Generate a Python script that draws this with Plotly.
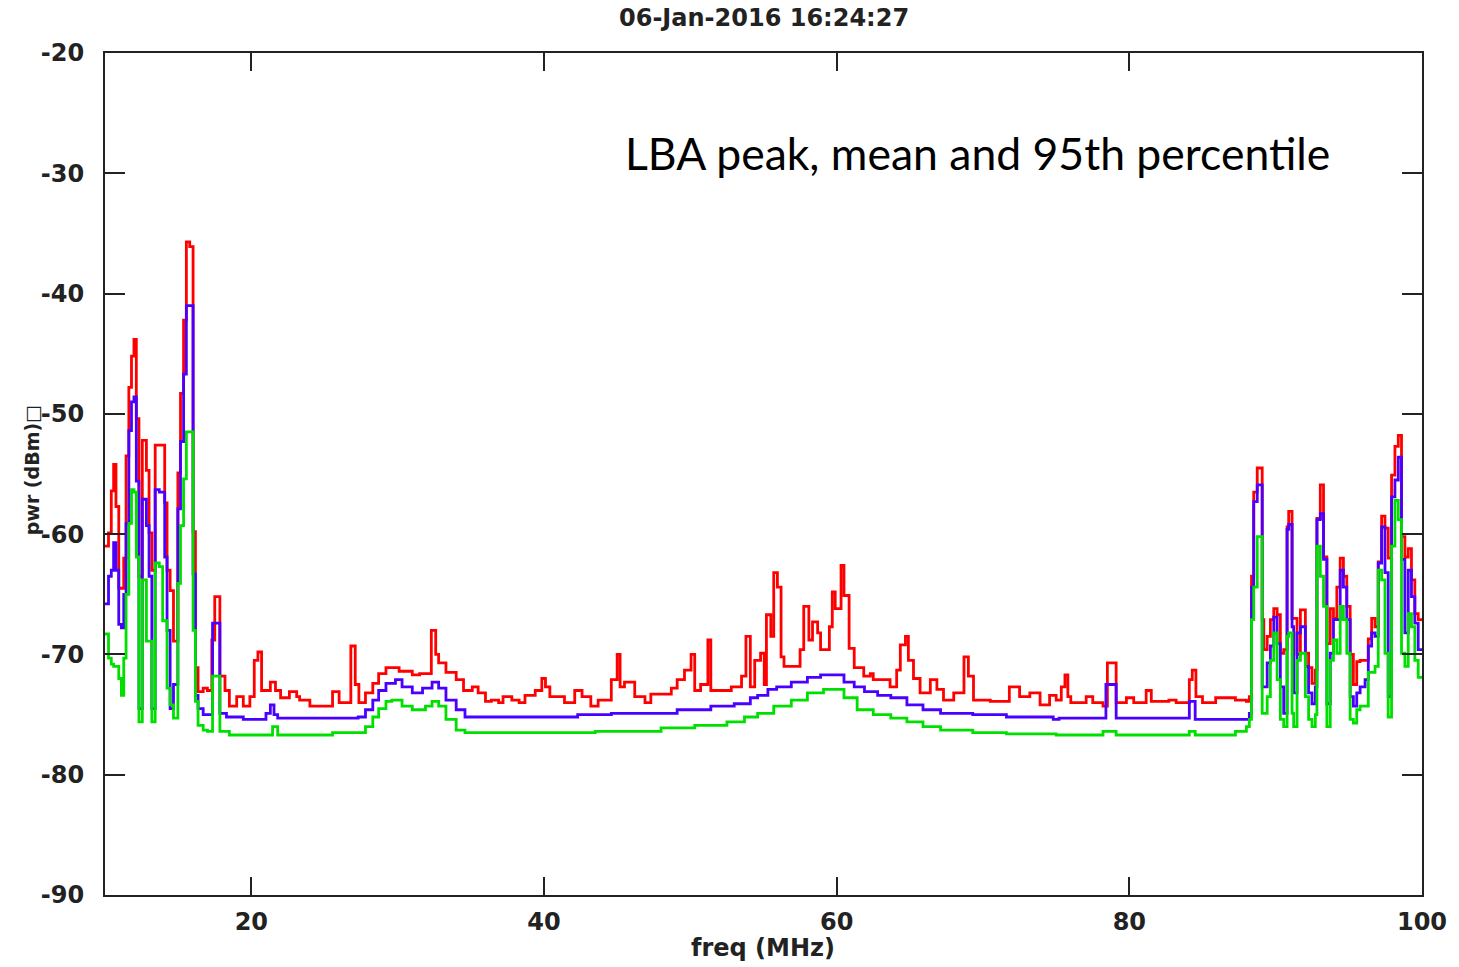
import plotly.graph_objects as go

# ---------------- data (freq in MHz, power in dBm) ----------------
# busy low band (shared step frequencies)
freq_lo = [10.0, 10.24, 10.43, 10.59, 10.75, 10.94, 11.12, 11.28, 11.44, 11.63,
           11.81, 11.98, 12.14, 12.32, 12.55, 12.83, 13.01, 13.2, 13.43, 13.71,
           13.94, 14.08, 14.24, 14.45, 14.68, 14.98, 15.16, 15.37, 15.56, 15.79,
           16.02, 16.18, 16.36, 16.71]
peak_lo = [-61.0, -59.9, -56.4, -54.2, -57.7, -64.5, -64.5, -62.0, -53.5, -47.8,
           -45.2, -43.8, -50.4, -63.5, -52.2, -54.7, -59.9, -63.0, -52.6, -52.6,
           -52.6, -57.4, -63.0, -64.7, -68.9, -54.9, -48.3, -42.2, -35.7, -36.1,
           -59.8, -71.1, -73.1, -72.8]
p95_lo = [-65.8, -63.5, -63.0, -60.7, -63.0, -67.5, -67.8, -65.0, -59.1, -51.4,
          -49.0, -48.6, -55.6, -74.5, -57.1, -59.3, -63.5, -74.5, -56.3, -56.5,
          -56.5, -61.9, -68.0, -74.5, -72.5, -57.9, -52.3, -46.7, -41.0, -41.0,
          -63.3, -73.4, -74.5, -75.0]
mean_lo = [-68.3, -70.3, -70.8, -71.0, -71.0, -72.0, -73.4, -70.3, -65.0, -59.1,
           -56.3, -56.5, -61.9, -75.6, -63.8, -68.9, -68.9, -75.6, -62.4, -62.7,
           -67.2, -67.2, -72.8, -74.2, -75.3, -64.1, -59.3, -55.4, -51.5, -51.5,
           -68.0, -73.9, -75.9, -76.3]

# quiet middle band
freq_mid_peak = [17.0, 17.3, 17.5, 17.85, 18.2, 18.5, 19.0, 19.45, 19.9, 20.2,
                 20.45, 20.7, 21.3, 21.65, 22.0, 22.6, 23.1, 23.3, 24.0, 25.55,
                 26.0, 26.8, 27.1, 27.35, 27.8, 28.3, 28.7, 29.2, 30.1, 31.0,
                 31.5, 32.3, 32.6, 32.8, 33.3, 34.0, 34.5, 35.1, 35.5, 36.0,
                 36.4, 36.9, 37.2, 37.8, 38.3, 38.7, 39.4, 39.85, 40.1, 40.4,
                 41.4, 42.1, 42.6, 43.2, 43.7, 44.6, 45.0, 45.2, 45.5, 46.2,
                 46.9, 47.3, 48.7, 49.1, 49.6, 50.05, 50.3, 50.7, 51.2, 51.4,
                 52.8, 53.5, 53.8, 54.1, 54.4, 54.8, 55.05, 55.2, 55.5, 55.7,
                 55.95, 56.2, 56.4, 57.5, 57.75, 58.1, 58.35, 58.7, 58.9, 59.5,
                 59.7, 59.9, 60.3, 60.5, 60.85, 61.2, 61.85, 62.3, 62.5, 63.65,
                 64.1, 64.35, 64.7, 64.9, 65.25, 65.7, 66.4, 66.85, 67.3, 68.0,
                 68.7, 69.0, 69.35, 70.5, 71.8, 72.5, 73.2, 73.9, 74.55, 75.0,
                 75.35, 75.6, 75.8, 76.0, 77.05, 77.5, 78.2, 78.5, 79.1, 79.8,
                 80.3, 81.15, 81.5, 82.7, 83.2, 84.1, 84.3, 84.55, 85.0, 85.9,
                 87.25]
peak_mid = [-73.0, -68.8, -65.2, -71.8, -73.0, -74.3, -73.5, -74.3, -73.5, -70.5,
            -69.8, -73.0, -72.3, -73.0, -73.6, -73.1, -73.5, -73.8, -74.3, -73.1,
            -74.0, -69.3, -72.5, -74.0, -73.2, -72.4, -71.6, -71.1, -71.4, -71.7,
            -71.6, -68.0, -70.0, -70.7, -71.5, -72.1, -73.0, -72.7, -73.2, -73.9,
            -73.8, -74.0, -73.5, -73.8, -74.0, -73.4, -73.0, -72.0, -72.7, -73.5,
            -74.0, -73.0, -73.5, -74.3, -73.8, -72.1, -70.0, -72.7, -72.3, -73.5,
            -74.0, -73.3, -72.8, -72.1, -71.3, -70.0, -73.0, -72.5, -68.8, -73.0,
            -72.7, -71.8, -68.5, -72.7, -70.5, -69.9, -72.5, -66.7, -68.5, -63.2,
            -64.4, -70.2, -71.0, -69.6, -66.0, -68.8, -67.3, -68.2, -69.6, -67.7,
            -64.8, -66.2, -62.6, -65.1, -69.5, -71.1, -71.8, -71.6, -72.1, -72.7,
            -71.3, -69.2, -68.5, -70.5, -72.0, -73.2, -72.1, -72.9, -73.8, -73.2,
            -70.2, -71.8, -73.8, -73.9, -72.7, -73.5, -73.2, -74.2, -73.4, -73.8,
            -72.7, -71.7, -73.5, -74.0, -73.5, -74.0, -74.3, -70.7, -74.0, -73.6,
            -74.0, -73.0, -73.9, -73.8, -74.0, -72.1, -71.3, -73.5, -74.0, -73.6,
            -73.8]

freq_mid_p95 = [17.0, 17.35, 17.85, 18.3, 19.45, 21.0, 21.3, 21.55, 21.8, 27.3,
                27.8, 28.3, 28.7, 29.2, 29.85, 30.3, 31.0, 31.7, 32.35, 32.8,
                33.3, 34.0, 34.6, 42.3, 44.6, 49.1, 51.4, 53.0, 54.1, 54.6,
                55.3, 55.9, 56.9, 58.0, 58.9, 60.5, 61.2, 61.9, 62.8, 63.7,
                64.8, 65.9, 67.1, 69.3, 71.6, 74.8, 75.2, 78.4, 79.1, 84.1,
                84.5, 87.25]
p95_mid = [-75.0, -67.4, -74.9, -75.2, -75.4, -74.9, -74.2, -75.0, -75.3, -75.2,
           -74.6, -73.8, -73.0, -72.4, -72.1, -72.7, -73.2, -72.8, -72.3, -72.8,
           -73.8, -74.6, -75.2, -75.0, -74.9, -74.6, -74.3, -74.1, -73.6, -73.4,
           -72.9, -72.7, -72.3, -71.9, -71.7, -72.3, -72.7, -73.1, -73.4, -73.6,
           -74.2, -74.6, -74.9, -75.0, -75.2, -75.4, -75.3, -72.5, -75.3, -73.9,
           -75.4, -75.4]

freq_mid_mean = [17.0, 17.35, 17.85, 18.5, 21.45, 21.8, 25.55, 27.8, 28.3, 28.7,
                 29.2, 29.6, 30.3, 31.0, 31.9, 32.35, 32.8, 33.3, 34.0, 34.6,
                 43.5, 48.0, 50.3, 52.5, 53.7, 54.6, 55.7, 56.9, 58.0, 59.1,
                 60.5, 61.4, 62.5, 63.7, 64.8, 65.9, 67.1, 69.3, 71.6, 75.0,
                 78.2, 79.1, 84.1, 84.5, 87.25]
mean_mid = [-76.4, -71.8, -76.4, -76.7, -76.0, -76.7, -76.5, -76.0, -75.2, -74.5,
            -73.9, -73.8, -74.3, -74.6, -74.3, -73.9, -74.3, -75.4, -76.3, -76.5,
            -76.4, -76.1, -75.9, -75.6, -75.2, -74.9, -74.3, -73.8, -73.2, -72.9,
            -73.6, -74.6, -75.0, -75.3, -75.6, -76.0, -76.3, -76.5, -76.6, -76.7,
            -76.4, -76.7, -76.4, -76.7, -76.4]

# busy high band (shared step frequencies)
freq_hi = [88.0, 88.2, 88.35, 88.5, 88.74, 89.08, 89.19, 89.42, 89.64, 89.87,
           90.1, 90.32, 90.55, 90.78, 90.89, 91.12, 91.23, 91.46, 91.69, 92.03,
           92.25, 92.48, 92.71, 92.82, 93.05, 93.27, 93.5, 93.73, 93.95, 94.18,
           94.41, 94.63, 94.86, 95.09, 95.31, 95.54, 95.77, 96.11, 96.33, 96.56,
           96.79, 97.01, 97.24, 97.47, 97.69, 97.92, 98.15, 98.38, 98.6, 98.83,
           99.06, 99.28, 99.51, 99.74]
peak_hi = [-73.9, -73.5, -63.5, -56.5, -54.5, -67.1, -69.6, -68.5, -67.1, -66.2,
           -66.7, -69.9, -69.6, -59.4, -58.1, -67.0, -67.0, -70.0, -66.3, -69.9,
           -71.1, -72.4, -71.3, -58.7, -55.9, -61.9, -69.1, -66.2, -67.0, -64.4,
           -62.0, -63.5, -66.0, -70.0, -72.5, -70.6, -70.5, -70.5, -68.7, -67.0,
           -67.7, -62.3, -58.5, -59.5, -62.0, -55.1, -52.7, -51.8, -60.2, -61.9,
           -61.2, -63.8, -66.6, -67.1]
p95_hi = [-75.4, -74.9, -64.4, -57.3, -55.9, -72.7, -72.7, -70.7, -69.3, -66.9,
          -69.1, -72.7, -74.9, -59.6, -59.2, -67.7, -73.2, -68.2, -67.7, -71.0,
          -73.2, -74.1, -72.7, -58.8, -58.3, -62.1, -74.1, -69.9, -67.1, -67.1,
          -63.0, -64.4, -67.1, -73.5, -74.3, -73.2, -72.7, -72.1, -69.3, -68.2,
          -68.5, -62.4, -59.4, -63.2, -73.5, -56.9, -55.5, -53.6, -62.1, -68.2,
          -63.0, -65.2, -67.4, -69.6]
mean_hi = [-76.0, -75.4, -67.1, -64.4, -60.2, -74.9, -74.9, -73.5, -70.5, -68.2,
           -72.1, -75.4, -76.0, -68.5, -68.2, -74.9, -76.0, -70.5, -69.9, -73.5,
           -75.4, -76.0, -75.0, -61.0, -63.5, -66.0, -76.0, -70.5, -68.8, -69.9,
           -66.0, -67.1, -69.9, -75.4, -75.7, -74.6, -74.3, -74.3, -71.5, -71.5,
           -71.0, -63.0, -63.8, -69.9, -75.2, -61.0, -57.2, -58.8, -69.9, -71.0,
           -66.6, -67.7, -70.5, -71.9]

x_ticks = [20, 40, 60, 80, 100]
x_tick_text = ["20", "40", "60", "80", "100"]
y_ticks = [-90, -80, -70, -60, -50, -40, -30, -20]
y_tick_text = ["-90", "-80", "-70", "-60", "-50", "-40", "-30", "-20"]
title_text = "06-Jan-2016 16:24:27"
note_text = "LBA peak, mean and 95th percentile"
x_title = "freq (MHz)"
y_title = "pwr (dBm)\u25a1"
f_end = 100.0


def build(fl, vl, fm, vm, fh, vh):
    x = list(fl) + list(fm) + list(fh) + [f_end]
    y = list(vl) + list(vm) + list(vh) + [vh[-1]]
    return x, y


series = [
    ("peak", build(freq_lo, peak_lo, freq_mid_peak, peak_mid, freq_hi, peak_hi), "#ff0000"),
    ("95th percentile", build(freq_lo, p95_lo, freq_mid_p95, p95_mid, freq_hi, p95_hi), "#4a00ff"),
    ("mean", build(freq_lo, mean_lo, freq_mid_mean, mean_mid, freq_hi, mean_hi), "#00e000"),
]

fig = go.Figure()
for name, (xs, ys), col in series:
    fig.add_trace(go.Scatter(x=xs, y=ys, mode="lines", name=name,
                             line=dict(color=col, width=2.8, shape="hv")))

W, H = 1459, 967
L, R, T, B = 105, 32, 53, 72
tick_font = dict(family="DejaVu Sans", size=24, color="#222222", weight="bold")

fig.update_layout(
    width=W, height=H,
    margin=dict(l=L, r=R, t=T, b=B, pad=0),
    paper_bgcolor="white", plot_bgcolor="white",
    showlegend=False,
    xaxis=dict(range=[10, 100], tickvals=x_ticks, ticktext=x_tick_text,
               ticks="inside", ticklen=18,
               tickwidth=2, tickcolor="#222222", mirror="ticks", showline=True,
               linecolor="#222222", linewidth=2, showgrid=False, zeroline=False,
               tickfont=tick_font, ticklabelstandoff=4),
    yaxis=dict(range=[-90, -20], tickvals=y_ticks, ticktext=y_tick_text,
               ticks="inside", ticklen=20,
               tickwidth=2, tickcolor="#222222", mirror="ticks", showline=True,
               linecolor="#222222", linewidth=2, showgrid=False, zeroline=False,
               tickfont=tick_font, ticklabelstandoff=14),
)

ph = H - T - B
pw = W - L - R
fig.add_annotation(text=title_text, xref="paper", yref="paper", x=0.5,
                   y=(H - B - 18) / ph, xanchor="center", yanchor="middle",
                   showarrow=False,
                   font=dict(family="DejaVu Sans", size=24, color="#222222", weight="bold"))
fig.add_annotation(text=x_title, xref="paper", yref="paper", x=(765 - L) / pw,
                   y=(H - B - 948) / ph, xanchor="center", yanchor="middle",
                   showarrow=False,
                   font=dict(family="DejaVu Sans", size=24, color="#222222", weight="bold"))
fig.add_annotation(text=y_title, xref="paper", yref="paper", x=(32 - L) / pw,
                   y=(H - B - 470) / ph, xanchor="center", yanchor="middle",
                   textangle=-90, showarrow=False,
                   font=dict(family="DejaVu Sans", size=19, color="#222222", weight="bold"))
fig.add_annotation(text=note_text, xref="paper", yref="paper", x=(625 - L) / pw,
                   y=(H - B - 153) / ph, xanchor="left", yanchor="middle",
                   showarrow=False,
                   font=dict(family="Lato", size=44.5, color="#000000"))

fig.write_html("out.html")
